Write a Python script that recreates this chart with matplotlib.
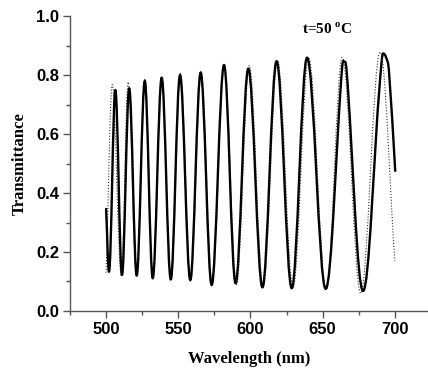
import numpy as np
import matplotlib
matplotlib.use("Agg")
import matplotlib.pyplot as plt
from matplotlib.path import Path
from matplotlib.patches import PathPatch
from matplotlib.ticker import MultipleLocator

solid_wl = [500.0, 502.0, 506.4, 511.0, 516.0, 521.2, 526.8, 532.3, 538.5, 544.8,
            551.2, 558.3, 565.5, 573.1, 581.7, 589.7, 598.5, 608.3, 618.1, 628.6,
            639.2, 652.1, 663.5, 665.0, 666.6, 678.0, 689.6, 691.9, 694.2, 696.0, 700.3]
solid_T = [0.346, 0.133, 0.749, 0.122, 0.755, 0.120, 0.780, 0.111, 0.791, 0.107,
           0.800, 0.105, 0.808, 0.088, 0.834, 0.094, 0.822, 0.080, 0.847, 0.077,
           0.859, 0.075, 0.825, 0.845, 0.815, 0.068, 0.772, 0.873, 0.856, 0.810, 0.475]

# fitted curve (dotted)
fit_wl = [500.0, 504.3, 510.5, 515.3, 521.0, 526.8, 532.3, 538.5, 545.0, 551.5,
          558.6, 565.8, 573.5, 581.8, 590.3, 599.2, 608.8, 618.8, 629.5, 640.3,
          652.5, 663.6, 676.4, 689.8, 700.0]
fit_T = [0.130, 0.768, 0.120, 0.776, 0.118, 0.785, 0.108, 0.795, 0.104, 0.805,
         0.100, 0.812, 0.088, 0.830, 0.090, 0.832, 0.082, 0.848, 0.078, 0.858,
         0.072, 0.860, 0.060, 0.878, 0.170]

x_ticks = [500, 550, 600, 650, 700]
y_ticks = [0.0, 0.2, 0.4, 0.6, 0.8, 1.0]
y_ticklabels = ['0.0', '0.2', '0.4', '0.6', '0.8', '1.0']


def smooth_path(xs, ys, k=0.364):
    # cubic bezier through the points, flat tangent at turning points
    xs = np.asarray(xs, float)
    ys = np.asarray(ys, float)
    n = len(xs)
    m = np.zeros(n)
    for i in range(n):
        if i == 0:
            m[i] = (ys[1] - ys[0]) / (xs[1] - xs[0])
        elif i == n - 1:
            m[i] = (ys[-1] - ys[-2]) / (xs[-1] - xs[-2])
        elif (ys[i] - ys[i - 1]) * (ys[i + 1] - ys[i]) <= 0:
            m[i] = 0.0
        else:
            m[i] = (ys[i + 1] - ys[i - 1]) / (xs[i + 1] - xs[i - 1])
    verts = [(xs[0], ys[0])]
    codes = [Path.MOVETO]
    for i in range(n - 1):
        dx = xs[i + 1] - xs[i]
        verts += [(xs[i] + k * dx, ys[i] + m[i] * k * dx),
                  (xs[i + 1] - k * dx, ys[i + 1] - m[i + 1] * k * dx),
                  (xs[i + 1], ys[i + 1])]
        codes += [Path.CURVE4] * 3
    return Path(verts, codes)


plt.rcParams['font.family'] = ['Liberation Sans', 'DejaVu Sans']
plt.rcParams['font.weight'] = 'bold'
plt.rcParams['mathtext.fontset'] = 'custom'
plt.rcParams['mathtext.rm'] = 'Liberation Serif:bold'
plt.rcParams['mathtext.bf'] = 'Liberation Serif:bold'

fig = plt.figure(figsize=(4.28, 3.68), dpi=100)
ax = fig.add_axes([0.1636, 0.1549, 0.8364, 0.8016])

ax.add_patch(PathPatch(smooth_path(fit_wl, fit_T), fill=False, color='#333333',
                       lw=0.8, linestyle=(0, (1, 1.6))))
ax.add_patch(PathPatch(smooth_path(solid_wl, solid_T), fill=False, color='black',
                       lw=1.7, joinstyle='round', capstyle='round'))

ax.set_xlim(475, 723)
ax.set_ylim(0, 1.0)
ax.set_xticks(x_ticks)
ax.set_yticks(y_ticks)
ax.set_yticklabels(y_ticklabels)
ax.xaxis.set_minor_locator(MultipleLocator(25))
ax.yaxis.set_minor_locator(MultipleLocator(0.1))

for s in ['top', 'right']:
    ax.spines[s].set_visible(False)
for s in ['left', 'bottom']:
    ax.spines[s].set_color('#555555')
    ax.spines[s].set_linewidth(1.0)

ax.tick_params(which='major', direction='out', length=5, width=1, color='#555555',
               labelsize=12, pad=3)
ax.tick_params(which='minor', direction='out', length=3, width=1, color='#555555')

ax.set_xlabel('Wavelength (nm)', fontfamily='Liberation Serif', fontweight='bold',
              fontsize=12, labelpad=10)
ax.set_ylabel('Transmittance', fontfamily='Liberation Serif', fontweight='bold',
              fontsize=12, labelpad=6)

ax.text(653, 0.955, r't=50 $^{\mathrm{o}}$C', fontfamily='Liberation Serif',
        fontweight='bold', fontsize=11, ha='center', va='center')

fig.savefig('out.png', dpi=100)
